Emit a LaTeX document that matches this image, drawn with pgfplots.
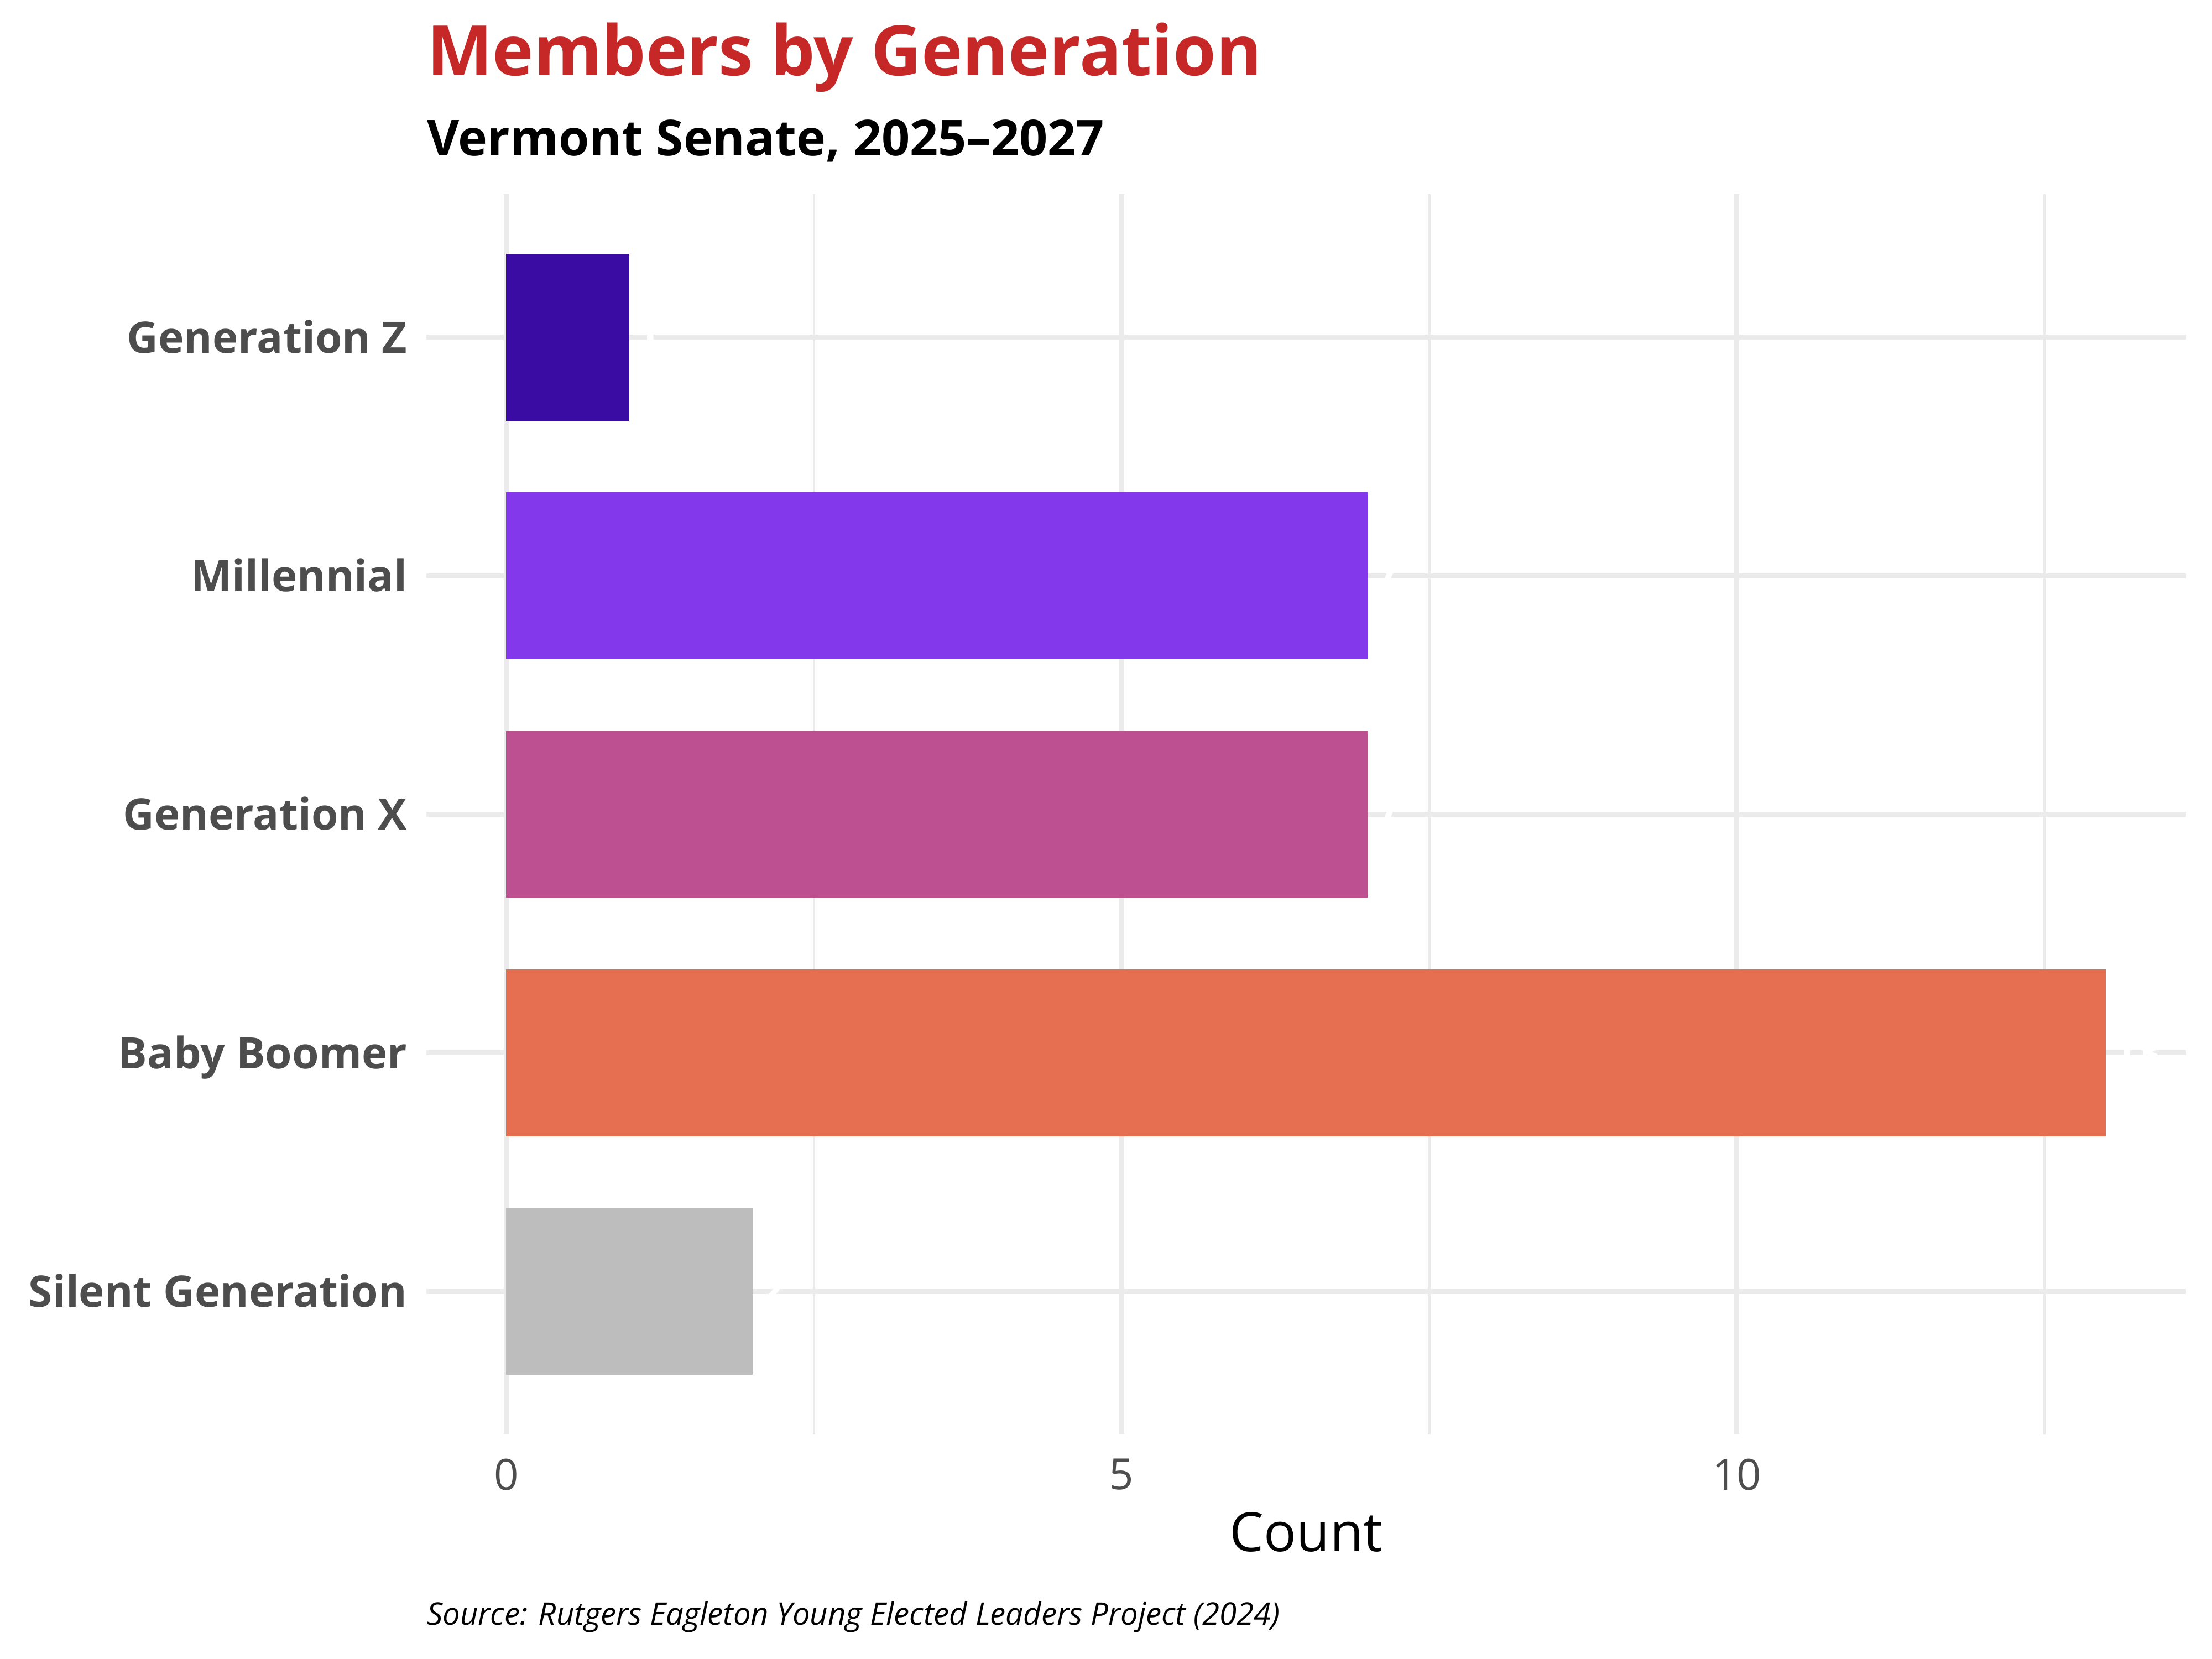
\documentclass[border=0pt]{standalone}
\usepackage{fontspec}
\setmainfont{Open Sans}
\usepackage{pgfplots}
\pgfplotsset{compat=1.18}
\definecolor{genz}{HTML}{3A0CA3}
\definecolor{mill}{HTML}{8338EC}
\definecolor{genx}{HTML}{BC5090}
\definecolor{boom}{HTML}{E76F51}
\definecolor{silent}{HTML}{BDBDBD}
\definecolor{gridc}{HTML}{EBEBEB}
\definecolor{labc}{HTML}{4D4D4D}
\definecolor{titlec}{HTML}{C62828}
\begin{document}
\begin{tikzpicture}
\path[use as bounding box] (0,0) rectangle (576bp,432bp);
\begin{axis}[
  at={(111.0bp,58.46bp)}, anchor=south west,
  scale only axis, width=458.2bp, height=323.0bp,
  xbar, bar shift=0pt, bar width=0.7,
  xmin=-0.65, xmax=13.65, ymin=0.4, ymax=5.6,
  xtick={0,5,10}, minor xtick={2.5,7.5,12.5},
  ytick={1,2,3,4,5},
  yticklabels={Silent Generation,Baby Boomer,Generation X,Millennial,Generation Z},
  xmajorgrids, xminorgrids, ymajorgrids,
  major grid style={draw=gridc, line width=1.3bp},
  minor grid style={draw=gridc, line width=0.65bp},
  axis line style={draw=none},
  tick style={draw=none},
  major tick length=0pt, minor tick length=0pt,
  /pgf/number format/assume math mode=true,
  xticklabel style={font=\fontsize{11.2bp}{12bp}\selectfont, text=labc, anchor=north, inner sep=0pt, yshift=-6.2bp},
  yticklabel style={font=\bfseries\fontsize{11.3bp}{12bp}\selectfont, text=labc, anchor=base east, inner sep=0pt, xshift=-4.8bp, yshift=-4.1bp},
  xlabel={Count},
  xlabel style={font=\fontsize{14.1bp}{16bp}\selectfont, text=black, at={(axis description cs:0.5,0)}, anchor=base, inner sep=0pt, yshift=-30.5bp},
  nodes near coords={\pgfmathprintnumber{\pgfplotspointmeta}},
  point meta=explicit,
  every node near coord/.append style={font=\bfseries\fontsize{11bp}{12bp}\selectfont, text=white, anchor=west, inner sep=0pt, xshift=1.6bp},
]
\addplot[fill=silent, draw=none] coordinates {(2,1) [2]};
\addplot[fill=boom, draw=none] coordinates {(13,2) [13]};
\addplot[fill=genx, draw=none] coordinates {(7,3) [7]};
\addplot[fill=mill, draw=none] coordinates {(7,4) [7]};
\addplot[fill=genz, draw=none] coordinates {(1,5) [1]};
\end{axis}
\node[anchor=base west, inner sep=0pt, text=titlec, font=\bfseries\fontsize{18.1bp}{20bp}\selectfont] at (111.0bp,412.3bp) {Members by Generation};
\node[anchor=base west, inner sep=0pt, text=black, font=\bfseries\fontsize{12.9bp}{15bp}\selectfont] at (111.0bp,391.5bp) {Vermont Senate, 2025–2027};
\node[anchor=base west, inner sep=0pt, text=black, font=\itshape\fontsize{8.1bp}{10bp}\selectfont] at (111.0bp,8.8bp) {Source: Rutgers Eagleton Young Elected Leaders Project (2024)};
\end{tikzpicture}
\end{document}
